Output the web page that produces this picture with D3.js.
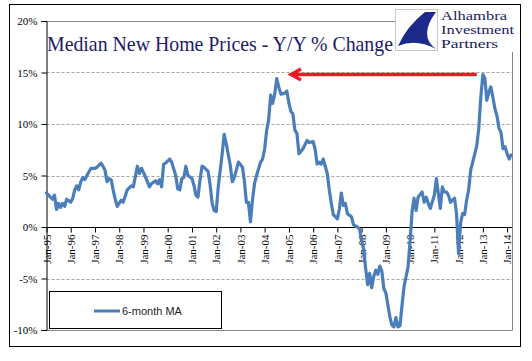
<!DOCTYPE html>
<html>
<head>
<meta charset="utf-8">
<script src="https://cdn.jsdelivr.net/npm/d3@7"></script>
<style>
  body { margin: 0; background: #fff; }
  svg { display: block; }
</style>
</head>
<body>
<svg id="chart" width="532" height="361"></svg>
<script>
// data (month, 6-month MA of y/y % change)
const months = [
  "1995-01","1995-03","1995-04","1995-05","1995-06","1995-07","1995-08","1995-09","1995-10","1995-11",
  "1996-01","1996-02","1996-03","1996-04","1996-05","1996-06","1996-07","1996-08","1996-09","1996-11",
  "1997-01","1997-02","1997-04","1997-05","1997-06","1997-07","1997-08","1997-09","1997-10","1997-11","1997-12",
  "1998-02","1998-03","1998-05","1998-07","1998-08","1998-10","1998-11","1998-12",
  "1999-01","1999-03","1999-04","1999-05","1999-07","1999-08","1999-09","1999-10","1999-11","1999-12",
  "2000-02","2000-03","2000-05","2000-06","2000-07","2000-08","2000-09","2000-10","2000-11",
  "2001-01","2001-02","2001-03","2001-04","2001-05","2001-06","2001-07","2001-09","2001-10","2001-11","2001-12",
  "2002-01","2002-02","2002-04","2002-05","2002-06","2002-08","2002-09","2002-10","2002-12",
  "2003-02","2003-03","2003-04","2003-05","2003-06","2003-07","2003-08","2003-09","2003-11","2003-12",
  "2004-01","2004-02","2004-03","2004-04","2004-05","2004-06","2004-07","2004-08","2004-09","2004-11","2004-12",
  "2005-01","2005-02","2005-03","2005-04","2005-05","2005-06","2005-08","2005-10","2005-11",
  "2006-01","2006-02","2006-03","2006-04","2006-05","2006-06","2006-08","2006-09","2006-10","2006-11",
  "2007-01","2007-02","2007-03","2007-04","2007-05","2007-06","2007-08","2007-09","2007-11","2007-12",
  "2008-01","2008-02","2008-03","2008-04","2008-05","2008-06","2008-07","2008-08","2008-09","2008-10","2008-11","2008-12",
  "2009-01","2009-02","2009-03","2009-04","2009-05","2009-06","2009-07","2009-08","2009-09","2009-10","2009-11","2009-12",
  "2010-01","2010-02","2010-03","2010-04","2010-05","2010-07","2010-08","2010-09","2010-10","2010-11",
  "2011-01","2011-02","2011-03","2011-04","2011-05","2011-06","2011-07","2011-08","2011-09","2011-10","2011-11","2011-12",
  "2012-01","2012-02","2012-03","2012-04","2012-05","2012-06","2012-07","2012-09","2012-10","2012-11","2012-12",
  "2013-01","2013-02","2013-03","2013-04","2013-05","2013-06","2013-07","2013-08","2013-09","2013-10","2013-11","2013-12",
  "2014-01","2014-02","2014-03"
];
const ma6 = [
  3.3,2.9,2.7,3.1,1.7,2.3,1.9,2.3,2.0,2.7,
  2.4,2.8,3.6,4.0,3.6,4.4,4.8,4.6,5.0,5.7,
  5.7,5.8,6.2,5.9,5.5,4.4,4.7,4.6,3.6,2.7,2.0,
  2.6,2.4,3.6,4.0,3.9,5.9,5.2,5.7,
  5.3,4.4,3.9,4.2,4.5,4.2,4.6,3.9,6.1,6.2,
  6.6,6.3,5.0,3.7,3.6,4.7,4.8,5.9,5.0,
  4.7,4.0,3.1,2.9,4.5,5.9,5.8,5.4,4.1,2.3,1.6,
  1.5,3.9,7.1,9.0,8.1,6.0,4.4,4.8,6.3,
  5.8,4.5,2.4,2.4,0.5,2.6,4.2,5.0,6.3,6.6,
  7.6,9.4,10.4,12.8,12.0,12.9,14.4,13.6,12.9,13.0,13.2,
  12.0,11.2,11.0,9.4,9.1,7.1,7.6,8.4,8.2,
  8.3,7.5,6.1,6.3,6.1,6.6,5.2,3.6,2.3,1.2,
  0.8,1.8,3.3,2.1,2.3,1.3,1.0,0.2,0.0,-0.2,
  -1.3,-2.2,-4.0,-5.6,-4.5,-5.9,-4.8,-4.2,-4.6,-3.8,-4.3,-6.0,
  -6.4,-7.6,-8.7,-9.5,-9.7,-8.8,-9.7,-9.6,-7.6,-5.8,-4.8,-3.9,
  -1.3,1.6,2.8,1.6,2.9,3.4,2.4,2.9,2.3,1.8,
  3.1,4.7,3.3,1.8,3.9,3.4,3.4,3.1,2.4,2.6,2.8,1.3,
  -2.6,0.4,1.3,1.2,2.6,3.6,5.5,7.1,7.9,9.6,12.6,
  14.8,14.4,12.3,13.1,13.6,12.6,11.5,10.8,9.6,9.2,7.6,7.8,
  7.1,6.6,7.0
];
const yTicks = [-10, -5, 0, 5, 10, 15, 20];
const gridLevels = [-5, 5, 10, 15];
const titleText = "Median New Home Prices - Y/Y % Change";
const legendLabel = "6-month MA";
const logoLines = ["Alhambra", "Investment", "Partners"];
// red arrow: from the 2013 peak back to the 2004/05 level
const arrowFrom = "2012-10", arrowTo = "2005-02", arrowLevel = 14.8;

const parse = d3.timeParse("%Y-%m");
const series = months.map((m, i) => ({ date: parse(m), value: ma6[i] }));

const svg = d3.select('#chart');
svg.append('rect').attr('width', 532).attr('height', 361).attr('fill', '#fff');

const x = d3.scaleTime()
    .domain([new Date(1995, 0, 1), new Date(2014, 2, 16)])
    .range([46.5, 512]);
const y = d3.scaleLinear().domain([-10, 20]).range([330, 21]);

// outer border
svg.append('rect')
    .attr('x', 9.5).attr('y', 4.5).attr('width', 511).attr('height', 342)
    .attr('fill', 'none').attr('stroke', '#000').attr('stroke-width', 1);

// gridlines
svg.append('g').selectAll('line').data(gridLevels).join('line')
    .attr('x1', x.range()[0]).attr('x2', x.range()[1])
    .attr('y1', d => Math.round(y(d)) + 0.5).attr('y2', d => Math.round(y(d)) + 0.5)
    .attr('stroke', '#a6a6a6').attr('stroke-dasharray', '3,2');

// plot frame (top, right, bottom)
const fr = { l: x.range()[0], r: Math.round(x.range()[1]) + 0.5, t: Math.round(y(20)) + 0.5, b: Math.round(y(-10)) + 0.5 };
svg.append('path')
    .attr('d', `M${fr.l},${fr.t}H${fr.r}V${fr.b}H${fr.l}`)
    .attr('fill', 'none').attr('stroke', '#868686');

// y axis
const yAxis = svg.append('g')
    .attr('transform', `translate(${x.range()[0]},0)`)
    .call(d3.axisLeft(y).tickValues(yTicks).tickFormat(d => d + '%').tickSize(5).tickPadding(4));
yAxis.selectAll('text')
    .attr('font-family', '"Liberation Serif", "Times New Roman", serif')
    .attr('font-size', 11).attr('fill', '#000');

// x axis on the 0% line
const xAxis = svg.append('g')
    .attr('transform', `translate(0,${Math.round(y(0)) + 0.5})`)
    .call(d3.axisBottom(x).ticks(d3.timeYear.every(1)).tickFormat(d3.timeFormat('%b-%y')).tickSize(5));
xAxis.select('.domain').attr('d', `M${x.range()[0]},0H${x.range()[1]}`);
xAxis.selectAll('text')
    .attr('font-family', '"Liberation Serif", "Times New Roman", serif')
    .attr('font-size', 11).attr('fill', '#000')
    .attr('text-anchor', 'end')
    .attr('transform', 'rotate(-90)')
    .attr('x', -7).attr('y', 0).attr('dy', '0.33em');

// the series
const line = d3.line().x(d => x(d.date)).y(d => y(d.value));
svg.append('path').datum(series)
    .attr('d', line)
    .attr('fill', 'none').attr('stroke', '#4a7ebb')
    .attr('stroke-width', 3.2).attr('stroke-linejoin', 'round').attr('stroke-linecap', 'round');

// red arrow
const ax0 = x(parse(arrowFrom)), ax1 = x(parse(arrowTo)), ay = y(arrowLevel);
svg.append('path')
    .attr('d', `M${ax0},${ay}H${ax1 + 1}M${ax1 + 10},${ay - 5.5}L${ax1},${ay}L${ax1 + 10},${ay + 5.5}`)
    .attr('fill', 'none').attr('stroke', '#ed1c24').attr('stroke-width', 3.4)
    .attr('stroke-linejoin', 'miter');

// title
svg.append('text')
    .attr('x', 47).attr('y', 51)
    .attr('font-family', '"Liberation Serif", "Times New Roman", serif')
    .attr('font-size', 22).attr('fill', '#1c1a6b')
    .attr('textLength', 346).attr('lengthAdjust', 'spacingAndGlyphs')
    .text(titleText);

// logo
const logo = svg.append('g');
logo.append('rect').attr('x', 395.5).attr('y', 9.5).attr('width', 42).attr('height', 41)
    .attr('fill', '#fff').attr('stroke', '#c8c8c8');
logo.append('path')
    .attr('d', 'M436,12 L425,12 Q407,26 398,46 Q416,38 436,49 Q418,36 436,12 Z')
    .attr('fill', '#1c2a8c');
logo.append('rect').attr('x', 438).attr('y', 6).attr('width', 82).attr('height', 46).attr('fill', '#fff');
const logoWidths = [66, 73, 57];
logo.selectAll('text').data(logoLines).join('text')
    .attr('x', 441).attr('y', (d, i) => 20 + i * 14)
    .attr('font-family', '"Liberation Serif", "Times New Roman", serif')
    .attr('font-size', 12.5).attr('fill', '#1c1a5e')
    .attr('textLength', (d, i) => logoWidths[i]).attr('lengthAdjust', 'spacingAndGlyphs')
    .text(d => d);

// legend
const lg = svg.append('g');
lg.append('rect').attr('x', 49.5).attr('y', 291.5).attr('width', 172).attr('height', 37)
    .attr('fill', '#fff').attr('stroke', '#000');
lg.append('line').attr('x1', 94).attr('x2', 120).attr('y1', 311).attr('y2', 311)
    .attr('stroke', '#4a7ebb').attr('stroke-width', 3);
lg.append('text').attr('x', 122).attr('y', 311).attr('dy', '0.35em')
    .attr('font-family', '"Liberation Sans", Arial, sans-serif')
    .attr('font-size', 11).attr('fill', '#222')
    .text(legendLabel);
</script>
</body>
</html>
